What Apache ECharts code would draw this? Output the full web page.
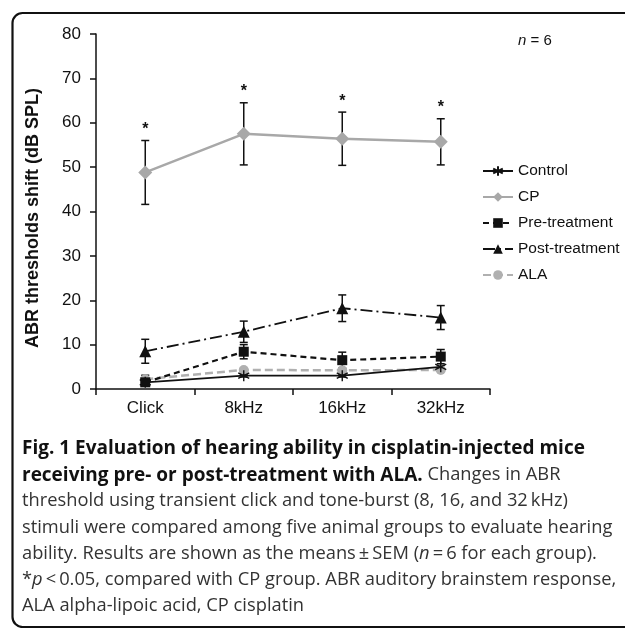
<!DOCTYPE html>
<html>
<head>
<meta charset="utf-8">
<script src="https://cdn.jsdelivr.net/npm/echarts@6/dist/echarts.min.js"></script>
<style>
html,body{margin:0;padding:0;background:#fff;}
#chart{width:625px;height:628px;}
</style>
</head>
<body>
<div id="chart"></div>
<script>
const categories = ['Click', '8kHz', '16kHz', '32kHz'];
const seriesNames = ['Control', 'CP', 'Pre-treatment', 'Post-treatment', 'ALA'];
const controlMean = [1.5, 3.0, 3.0, 5.0];
const controlSem  = [0.4, 0.3, 0.3, 0.3];
const cpMean = [48.8, 57.5, 56.4, 55.7];
const cpSem  = [7.2, 7.0, 6.0, 5.2];
const preMean = [1.5, 8.4, 6.5, 7.3];
const preSem  = [0.6, 1.6, 1.8, 1.6];
const postMean = [8.5, 12.9, 18.2, 16.1];
const postSem  = [2.7, 2.4, 3.0, 2.7];
const alaMean = [2.2, 4.3, 4.2, 4.3];
const alaSem  = [0.9, 0.3, 0.3, 0.3];
const cpSignificance = ['*', '*', '*', '*'];
const yMin = 0, yMax = 80, yStep = 10;

const captionLines = [
  [{t:'Fig. 1 Evaluation of hearing ability in cisplatin-injected mice', s:'b'}],
  [{t:'receiving pre- or post-treatment with ALA.', s:'b'}, {t:' Changes in ABR', s:'r'}],
  [{t:'threshold using transient click and tone-burst (8, 16, and 32\u2009kHz)', s:'r'}],
  [{t:'stimuli were compared among five animal groups to evaluate hearing', s:'r'}],
  [{t:'ability. Results are shown as the means\u2009\u00b1\u2009SEM (', s:'r'}, {t:'n', s:'i'}, {t:'\u2009=\u20096 for each group).', s:'r'}],
  [{t:'*', s:'r'}, {t:'p', s:'i'}, {t:'\u2009<\u20090.05, compared with CP group. ABR auditory brainstem response,', s:'r'}],
  [{t:'ALA alpha-lipoic acid, CP cisplatin', s:'r'}]
];

const chart = echarts.init(document.getElementById('chart'));

function errData(mean, sem) {
  return mean.map((m, i) => [i, m - sem[i], m + sem[i]]);
}
function errSeries(mean, sem) {
  return {
    type: 'custom',
    z: 3,
    silent: true,
    data: errData(mean, sem),
    renderItem: function (params, api) {
      const x = api.coord([api.value(0), 0])[0];
      const lo = api.coord([api.value(0), api.value(1)])[1];
      const hi = api.coord([api.value(0), api.value(2)])[1];
      const w = 4;
      const st = {stroke: '#111', lineWidth: 1.5};
      return {type: 'group', children: [
        {type: 'line', shape: {x1: x, y1: lo, x2: x, y2: hi}, style: st},
        {type: 'line', shape: {x1: x - w, y1: hi, x2: x + w, y2: hi}, style: st},
        {type: 'line', shape: {x1: x - w, y1: lo, x2: x + w, y2: lo}, style: st}
      ]};
    }
  };
}

const starSeries = {
  type: 'custom',
  silent: true,
  z: 4,
  data: cpMean.map((m, i) => [i, m + cpSem[i], cpSignificance[i]]),
  renderItem: function (params, api) {
    const p = api.coord([api.value(0), api.value(1)]);
    return {type: 'text', style: {text: cpSignificance[params.dataIndex], x: p[0], y: p[1] - 3,
      align: 'center', verticalAlign: 'bottom', font: 'bold 16px "Liberation Sans", Arial, sans-serif', fill: '#111'}};
  }
};

const asterisk = 'path://M0,-6L0,6M-5.2,-3L5.2,3M-5.2,3L5.2,-3';

const graphics = [
  {type: 'rect', shape: {x: 12.5, y: 13, width: 660, height: 614, r: 10},
   style: {fill: 'none', stroke: '#111', lineWidth: 2.2}, z: 0},
  {type: 'text', x: 33, y: 218, rotation: Math.PI / 2,
   style: {text: 'ABR thresholds shift (dB SPL)', align: 'center', verticalAlign: 'middle',
     font: 'bold 18px "Liberation Sans", Arial, sans-serif', fill: '#111'}},
  {type: 'text', x: 518, y: 41,
   style: {text: '{i|n} = 6', verticalAlign: 'middle',
     rich: {i: {fontStyle: 'italic', fontSize: 15, fontFamily: 'Liberation Sans', fill: '#111'}},
     font: '15px "Liberation Sans", Arial, sans-serif', fill: '#111'}}
];

const fam = '"Open Sans", Lato, sans-serif';
const capY0 = 449, capDy = 26.1;
captionLines.forEach((parts, li) => {
  const text = parts.map(p => '{' + p.s + '|' + p.t.replace(/[{}|]/g, '') + '}').join('');
  graphics.push({type: 'text', x: 22, y: capY0 + li * capDy,
    style: {text: text, verticalAlign: 'middle',
      rich: {
        b: {fontWeight: 'bold', fontSize: 19, fontFamily: fam, fill: '#111'},
        r: {fontWeight: 'normal', fontSize: 18.3, fontFamily: fam, fill: '#333'},
        i: {fontStyle: 'italic', fontSize: 18.3, fontFamily: fam, fill: '#333'}
      }}});
});

const option = {
  animation: false,
  backgroundColor: '#fff',
  grid: {left: 96, right: 135, top: 34, bottom: 239, containLabel: false},
  xAxis: {
    type: 'category', data: categories, boundaryGap: true,
    axisLine: {lineStyle: {color: '#111', width: 1.5}},
    axisTick: {show: true, alignWithLabel: false, interval: 0, length: 6, lineStyle: {color: '#111', width: 1.5}},
    axisLabel: {fontSize: 17, color: '#111', margin: 11, fontFamily: 'Liberation Sans', interval: 0},
    z: 10
  },
  yAxis: {
    type: 'value', min: yMin, max: yMax, interval: yStep,
    axisLine: {show: true, lineStyle: {color: '#111', width: 1.5}},
    axisTick: {show: true, length: 6, lineStyle: {color: '#111', width: 1.5}},
    axisLabel: {fontSize: 17, color: '#111', margin: 15, fontFamily: 'Liberation Sans'},
    splitLine: {show: false}
  },
  legend: {
    orient: 'vertical', left: 477, top: 158, itemWidth: 30, itemHeight: 12, itemGap: 10,
    data: seriesNames,
    textStyle: {fontSize: 15.5, color: '#111', fontFamily: 'Liberation Sans'}
  },
  graphic: graphics,
  series: [
    errSeries(controlMean, controlSem),
    errSeries(cpMean, cpSem),
    errSeries(preMean, preSem),
    errSeries(postMean, postSem),
    errSeries(alaMean, alaSem),
    starSeries,
    {name: 'ALA', type: 'line', data: alaMean, z: 5, symbol: 'circle', symbolSize: 10,
     itemStyle: {color: '#b0b0b0'}, lineStyle: {color: '#b0b0b0', width: 2.5, type: [8, 4]}},
    {name: 'Control', type: 'line', data: controlMean, z: 6, symbol: asterisk, symbolSize: 11,
     itemStyle: {color: '#111', borderColor: '#111', borderWidth: 1.4}, lineStyle: {color: '#111', width: 1.8}},
    {name: 'Pre-treatment', type: 'line', data: preMean, z: 6, symbol: 'rect', symbolSize: 10,
     itemStyle: {color: '#111'}, lineStyle: {color: '#111', width: 2.2, type: [6, 4]}},
    {name: 'Post-treatment', type: 'line', data: postMean, z: 6, symbol: 'triangle', symbolSize: 12,
     itemStyle: {color: '#111'}, lineStyle: {color: '#111', width: 1.8, type: [12, 4, 2, 4]}},
    {name: 'CP', type: 'line', data: cpMean, z: 5, symbol: 'diamond', symbolSize: 14,
     itemStyle: {color: '#a8a8a8'}, lineStyle: {color: '#a8a8a8', width: 2.5}}
  ]
};
chart.setOption(option);
</script>
</body>
</html>
